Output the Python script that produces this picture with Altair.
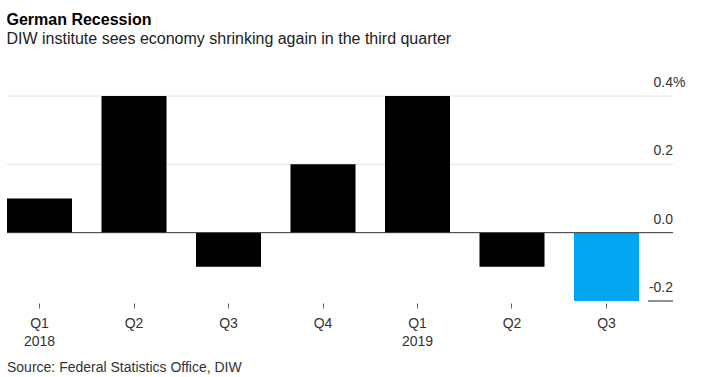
import altair as alt
import pandas as pd

# ---- data ----
quarters = ["Q1", "Q2", "Q3", "Q4", "Q1", "Q2", "Q3"]
years = ["2018", "2018", "2018", "2018", "2019", "2019", "2019"]
growth = [0.1, 0.4, -0.1, 0.2, 0.4, -0.1, -0.2]

tick_values = [0.4, 0.2, 0.0, -0.2]
tick_labels = ["0.4", "0.2", "0.0", "-0.2"]
tick_suffix = ["%", "", "", ""]

title_text = "German Recession"
subtitle_text = "DIW institute sees economy shrinking again in the third quarter"
source_text = "Source: Federal Statistics Office, DIW"

FONT = "Liberation Sans"
BLUE = "#04a6f2"

bars_df = pd.DataFrame({
    "key": [f"{y} {q}" for y, q in zip(years, quarters)],
    "growth": growth,
})
ticks_df = pd.DataFrame({"value": tick_values, "label": tick_labels, "suffix": tick_suffix})

W, H = 666, 205
ydom = [-0.2, 0.4]
yscale = alt.Scale(domain=ydom, nice=False, zero=False)

label_expr = (
    "substring(datum.value,5,7) == 'Q1' ? "
    "[substring(datum.value,5,7), substring(datum.value,0,4)] : substring(datum.value,5,7)"
)

bars = alt.Chart(bars_df).mark_bar().encode(
    x=alt.X(
        "key:N",
        sort=None,
        scale=alt.Scale(range=[0, 632], paddingInner=0.312, paddingOuter=0),
        axis=alt.Axis(
            title=None, domain=False, ticks=True, tickSize=5, tickColor="#666",
            tickWidth=1, offset=2, labelAngle=0, labelPadding=8,
            labelFont=FONT, labelFontSize=14, labelColor="#333",
            labelLineHeight=18, labelExpr=label_expr,
        ),
    ),
    y=alt.Y("growth:Q", scale=yscale, axis=None),
    y2=alt.datum(0),
    color=alt.condition(alt.datum.key == "2019 Q3", alt.value(BLUE), alt.value("black")),
)

base_ticks = alt.Chart(ticks_df)

grid = base_ticks.transform_filter("datum.value > 0").mark_rule(
    color="#e2e2e2", strokeWidth=1
).encode(x=alt.value(0), x2=alt.value(W), y=alt.Y("value:Q", scale=yscale, axis=None))

zero = base_ticks.transform_filter("datum.value == 0").mark_rule(
    color="#333", strokeWidth=1
).encode(x=alt.value(0), x2=alt.value(W), y=alt.Y("value:Q", scale=yscale, axis=None))

bottom_seg = base_ticks.transform_filter("datum.value < 0").mark_rule(
    color="#222", strokeWidth=1
).encode(x=alt.value(641), x2=alt.value(W), y=alt.Y("value:Q", scale=yscale, axis=None))

labels = base_ticks.mark_text(
    align="right", baseline="alphabetic", dy=-9, font=FONT, fontSize=14, color="#333"
).encode(x=alt.value(W), y=alt.Y("value:Q", scale=yscale, axis=None), text="label:N")

suffix = base_ticks.mark_text(
    align="left", baseline="alphabetic", dy=-9, font=FONT, fontSize=14, color="#333"
).encode(x=alt.value(W), y=alt.Y("value:Q", scale=yscale, axis=None), text="suffix:N")

source = alt.Chart(pd.DataFrame({"t": [source_text]})).mark_text(
    align="left", baseline="alphabetic", font=FONT, fontSize=14, color="#333"
).encode(x=alt.value(0), y=alt.value(276), text="t:N")

chart = alt.layer(grid, bars, zero, bottom_seg, labels, suffix, source).properties(
    width=W,
    height=H,
    autosize=alt.AutoSizeParams(type="none"),
    padding={"left": 7, "top": 96, "right": 36, "bottom": 76},
    title=alt.Title(
        title_text,
        subtitle=subtitle_text,
        anchor="start",
        font=FONT,
        fontSize=16,
        fontWeight="bold",
        color="black",
        subtitleFont=FONT,
        subtitleFontSize=16,
        subtitleColor="#222",
        subtitlePadding=3,
        offset=29,
    ),
).configure(background="white").configure_view(stroke=None)

chart.save("out.html", embed_options={"renderer": "svg", "actions": False})
